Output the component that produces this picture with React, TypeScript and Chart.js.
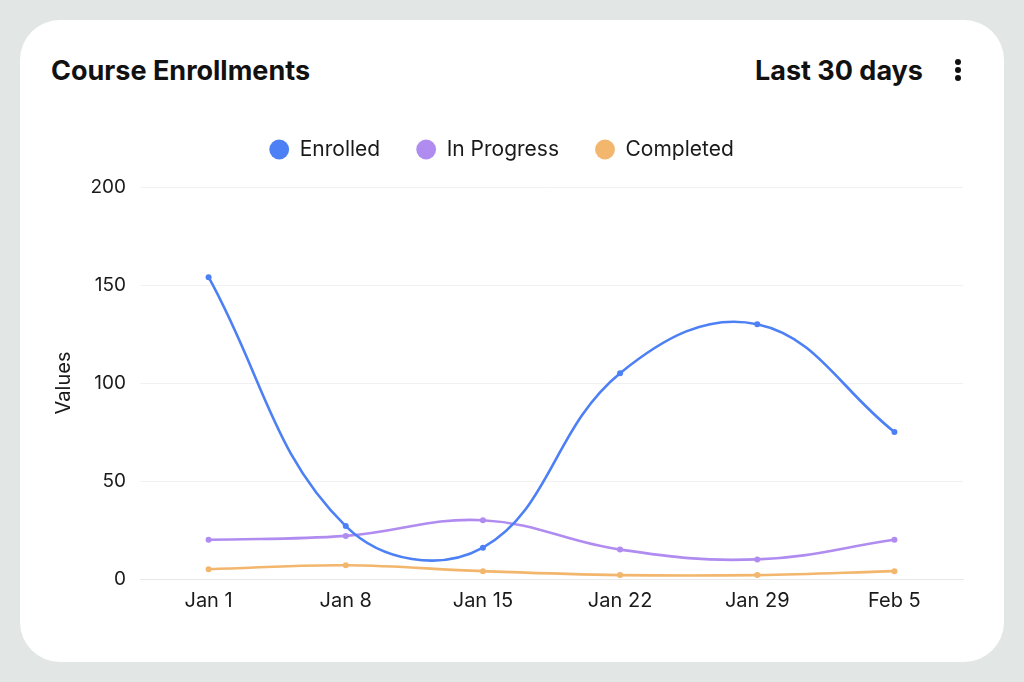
import React, { useEffect, useRef } from "react";
import { Chart, registerables } from "chart.js";

Chart.register(...registerables);

const categories = ["Jan 1", "Jan 8", "Jan 15", "Jan 22", "Jan 29", "Feb 5"];
const enrolled = [154, 27, 16, 105, 130, 75];
const inProgress = [20, 22, 30, 15, 10, 20];
const completed = [5, 7, 4, 2, 2, 4];
const yTicks = [0, 50, 100, 150, 200];

const FONT = "Inter, 'Open Sans', sans-serif";
const LEGEND_HEIGHT = 84;

// Fixes the legend block height so the plot starts at a set distance below it.
const legendHeightPlugin = {
  id: "legendHeight",
  beforeInit(chart: any) {
    const legend = chart.legend;
    if (!legend) return;
    const fit = legend.fit.bind(legend);
    legend.fit = function () {
      fit();
      this.height = LEGEND_HEIGHT;
    };
  },
};

export default function App() {
  const canvasRef = useRef<HTMLCanvasElement | null>(null);

  useEffect(() => {
    document.body.style.margin = "0";
    const canvas = canvasRef.current;
    if (!canvas) return;
    const line = (label: string, data: number[], color: string) => ({
      label,
      data,
      borderColor: color,
      backgroundColor: color,
      borderWidth: 2.6,
      pointRadius: 3,
      pointBackgroundColor: color,
      pointBorderWidth: 0,
      tension: 0.4,
      fill: false,
    });
    const chart = new Chart(canvas, {
      type: "line",
      data: {
        labels: categories,
        datasets: [
          line("Enrolled", enrolled, "#4d80f5"),
          line("In Progress", inProgress, "#b08cf1"),
          line("Completed", completed, "#f2b66d"),
        ],
      },
      plugins: [legendHeightPlugin],
      options: {
        animation: false,
        responsive: false,
        maintainAspectRatio: false,
        layout: { padding: { left: 0, right: 21, top: 17, bottom: 8 } },
        plugins: {
          tooltip: { enabled: false },
          legend: {
            position: "top",
            labels: {
              usePointStyle: true,
              pointStyle: "circle",
              boxWidth: 20,
              boxHeight: 14,
              padding: 36,
              color: "#1a1a1a",
              font: { family: FONT, size: 21 },
            },
          },
        },
        scales: {
          x: {
            offset: true,
            grid: { display: false, drawTicks: false },
            border: { display: true, color: "#e8e8e8" },
            ticks: {
              color: "#1a1a1a",
              padding: 10,
              font: { family: FONT, size: 20 },
            },
          },
          y: {
            min: 0,
            max: 200,
            afterBuildTicks: (scale: any) => {
              scale.ticks = yTicks.map((v) => ({ value: v }));
            },
            afterFit: (scale: any) => {
              scale.width = 100;
            },
            grid: { color: "#f1f1f1", drawTicks: false },
            border: { display: false },
            ticks: {
              color: "#1a1a1a",
              padding: 14,
              font: { family: FONT, size: 19 },
            },
            title: {
              display: true,
              text: "Values",
              color: "#1a1a1a",
              padding: { top: 12, bottom: 0 },
              font: { family: FONT, size: 20 },
            },
          },
        },
      },
    });
    return () => chart.destroy();
  }, []);

  const headerText: React.CSSProperties = {
    position: "absolute",
    top: 34,
    fontSize: 27,
    fontWeight: 700,
    color: "#111",
    lineHeight: "34px",
  };

  return (
    <div
      style={{
        position: "fixed",
        left: 0,
        top: 0,
        width: 1024,
        height: 682,
        background: "#e2e7e6",
        fontFamily: FONT,
      }}
    >
      <div
        style={{
          position: "absolute",
          left: 20,
          top: 20,
          width: 984,
          height: 642,
          background: "#ffffff",
          borderRadius: 40,
        }}
      >
        <div style={{ ...headerText, left: 31 }}>Course Enrollments</div>
        <div style={{ ...headerText, right: 81 }}>Last 30 days</div>
        <div
          style={{
            position: "absolute",
            left: 935,
            top: 39,
            width: 6,
            display: "flex",
            flexDirection: "column",
            gap: 2,
          }}
        >
          {[0, 1, 2].map((i) => (
            <div
              key={i}
              style={{ width: 6, height: 6, borderRadius: 3, background: "#111" }}
            />
          ))}
        </div>
        <canvas
          ref={canvasRef}
          width={944}
          height={545}
          style={{ position: "absolute", left: 20, top: 66, width: 944, height: 545 }}
        />
      </div>
    </div>
  );
}
